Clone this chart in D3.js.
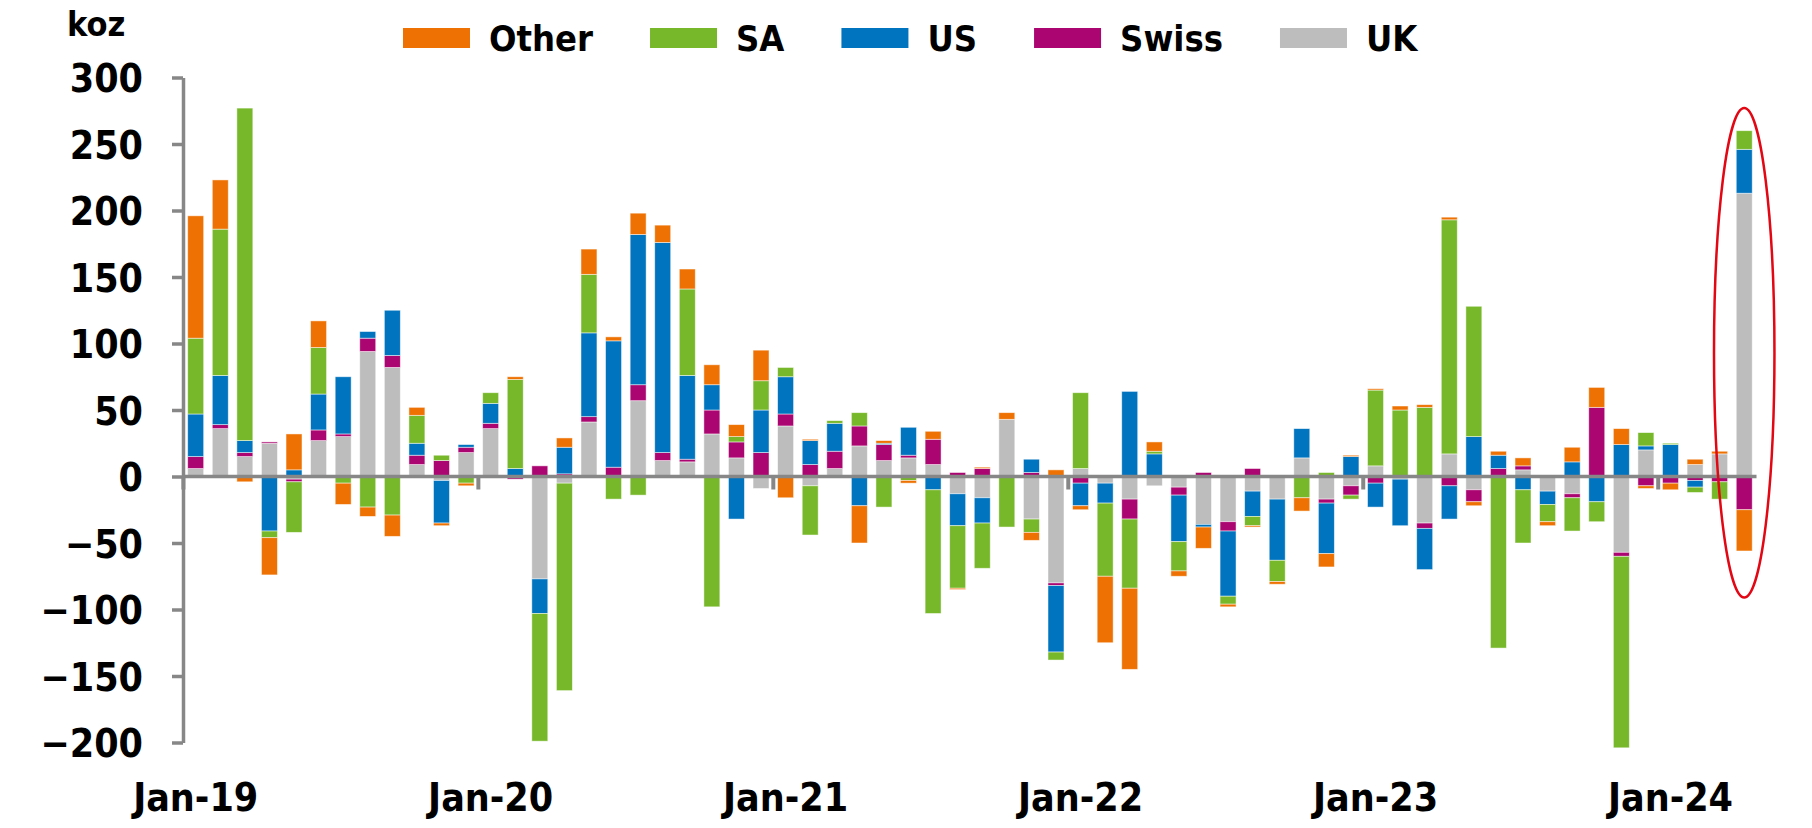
<!DOCTYPE html>
<html>
<head>
<meta charset="utf-8">
<script src="https://cdn.jsdelivr.net/npm/d3@7"></script>
<style>
  body { margin: 0; background: #fff; }
  svg text { font-family: "DejaVu Sans Condensed", "DejaVu Sans", sans-serif; font-stretch: condensed; font-weight: bold; fill: #000; }
</style>
</head>
<body>
<div id="chart"></div>
<script>
// monthly flows, koz, Jan-19 .. Apr-24
var months = d3.timeMonths(new Date(2019, 0, 1), new Date(2024, 4, 1));
var keys = ["UK", "Swiss", "US", "SA", "Other"];
var legendKeys = ["Other", "SA", "US", "Swiss", "UK"];
var yTicks = [300, 250, 200, 150, 100, 50, 0, -50, -100, -150, -200];
var xTickLabels = ["Jan-19", "Jan-20", "Jan-21", "Jan-22", "Jan-23", "Jan-24"];

var uk = [6, 36, 15, 25, -2, 27, 30, 94, 82, 9, -3, 18,
          36, 0, -77, -5, 41, 0, 57, 12, 11, 32, 14, -9,
          38, -7, 6, 23, 12, 14, 9, -13, -16, 43, -32, -80,
          6, -5, -17, -7, -8, -36, -34, -11, -17, 14, -17, -7,
          8, -2, -35, 17, -10, 0, 5, -11, -13, 0, -57, 20,
          0, 9, 17, 213];
var swiss = [9, 3, 3, 1, -2, 8, 2, 10, 9, 7, 12, 4,
             4, -2, 8, 2, 4, 7, 12, 6, 2, 18, 12, 18,
             9, 9, 13, 15, 12, 2, 19, 3, 6, 0, 3, -2,
             -5, 0, -15, 0, -6, 3, -7, 6, 0, 0, -3, -7,
             -5, 0, -4, -7, -9, 6, 3, 0, -3, 52, -3, -7,
             -5, -3, -4, -25];
var us = [32, 37, 9, -41, 5, 27, 43, 5, 34, 9, -32, 2,
          15, 6, -26, 20, 63, 95, 113, 158, 63, 19, -32, 32,
          28, 18, 21, -22, 1, 21, -10, -24, -19, 0, 10, -50,
          -17, -15, 64, 17, -35, -2, -49, -19, -46, 22, -38, 15,
          -18, -35, -31, -25, 30, 10, -10, -10, 11, -19, 24, 3,
          24, -5, 0, 33];
var sa = [57, 110, 250, -5, -38, 35, -5, -23, -29, 21, 4, -5,
          8, 67, -96, -156, 44, -17, -14, 0, 65, -98, 4, 22,
          7, -37, 2, 10, -23, -3, -93, -47, -34, -38, -10, -6,
          57, -55, -52, 2, -22, 0, -6, -7, -16, -16, 3, -3,
          57, 50, 52, 176, 98, -129, -40, -13, -25, -15, -144, 10,
          1, -4, -13, 14];
var other = [92, 37, -4, -28, 27, 20, -16, -7, -16, 6, -2, -2,
             0, 2, 0, 7, 19, 3, 16, 13, 15, 15, 9, 23,
             -16, 1, 0, -28, 2, -2, 6, -1, 1, 5, -6, 5,
             -3, -50, -61, 7, -4, -16, -2, -1, -2, -10, -10, 1,
             1, 3, 2, 2, -3, 3, 6, -3, 11, 15, 12, -2,
             -5, 4, 2, -31];

var colors = {Other: "#ee7203", SA: "#77b82a", US: "#0074bf", Swiss: "#aa0570", UK: "#bcbdbc"};
var axisGrey = "#878787";

var rows = months.map(function(m, i) {
    return {month: m, UK: uk[i], Swiss: swiss[i], US: us[i], SA: sa[i], Other: other[i]};
});

var W = 1812, H = 828;
var svg = d3.select("#chart").append("svg")
    .attr("width", W).attr("height", H);

var x = d3.scaleBand()
    .domain(d3.range(months.length))
    .range([183.4, 183.4 + 24.58 * months.length])
    .paddingInner(0.35)
    .paddingOuter(0.175);

var y = d3.scaleLinear()
    .domain([-200, 300])
    .range([742.5, 77.5]);

var series = d3.stack()
    .keys(keys)
    .offset(d3.stackOffsetDiverging)(rows);

// bars
svg.append("g").selectAll("g")
    .data(series)
    .enter().append("g")
    .attr("fill", function(d) { return colors[d.key]; })
    .selectAll("rect")
    .data(function(d) { return d; })
    .enter().append("rect")
    .attr("x", function(d, i) { return x(i); })
    .attr("y", function(d) { return y(Math.max(d[0], d[1])); })
    .attr("width", x.bandwidth())
    .attr("height", function(d) { return Math.abs(y(d[0]) - y(d[1])); })
    .attr("stroke", "#fff")
    .attr("stroke-opacity", 0.6)
    .attr("stroke-width", 0.8);

// Y axis
var yAxis = svg.append("g")
    .attr("transform", "translate(183,0)")
    .call(d3.axisLeft(y).tickValues(yTicks).tickSize(11).tickPadding(29).tickSizeOuter(0));
yAxis.select(".domain").attr("stroke", axisGrey).attr("stroke-width", 3.5);
yAxis.selectAll(".tick line").attr("stroke", axisGrey).attr("stroke-width", 3.5);
yAxis.selectAll(".tick text").style("font-size", "39px").attr("dy", "0.36em");

// zero line with year ticks
var step = x.step();
var zeroAxis = svg.append("g")
    .attr("transform", "translate(0," + y(0) + ")");
zeroAxis.append("line")
    .attr("x1", 183).attr("x2", x.range()[1])
    .attr("stroke", axisGrey).attr("stroke-width", 3.5);
zeroAxis.selectAll("line.yr")
    .data(xTickLabels)
    .enter().append("line")
    .attr("class", "yr")
    .attr("x1", function(d, i) { return x(i * 12) - step * 0.175; })
    .attr("x2", function(d, i) { return x(i * 12) - step * 0.175; })
    .attr("y1", 0).attr("y2", 13)
    .attr("stroke", axisGrey).attr("stroke-width", 4);

// X labels
svg.append("g").selectAll("text")
    .data(xTickLabels)
    .enter().append("text")
    .attr("x", function(d, i) { return x(i * 12) + x.bandwidth() / 2; })
    .attr("y", 811)
    .attr("text-anchor", "middle")
    .style("font-size", "39px")
    .text(function(d) { return d; });

// unit
svg.append("text")
    .attr("x", 67).attr("y", 36)
    .style("font-size", "34px")
    .text("koz");

// legend
var lx = 403;
legendKeys.forEach(function(k) {
    svg.append("rect")
        .attr("x", lx).attr("y", 28)
        .attr("width", 67).attr("height", 20)
        .attr("fill", colors[k]);
    var t = svg.append("text")
        .attr("x", lx + 67 + 19).attr("y", 51)
        .style("font-size", "36px")
        .text(k);
    lx += 67 + 19 + t.node().getComputedTextLength() + 57;
});

// highlight around the latest month
var last = months.length - 1;
svg.append("ellipse")
    .attr("cx", x(last) + x.bandwidth() / 2)
    .attr("cy", (y(277) + y(-91)) / 2)
    .attr("rx", step * 1.23)
    .attr("ry", (y(-91) - y(277)) / 2)
    .attr("fill", "none")
    .attr("stroke", "#e30613")
    .attr("stroke-width", 2.5);
</script>
</body>
</html>
